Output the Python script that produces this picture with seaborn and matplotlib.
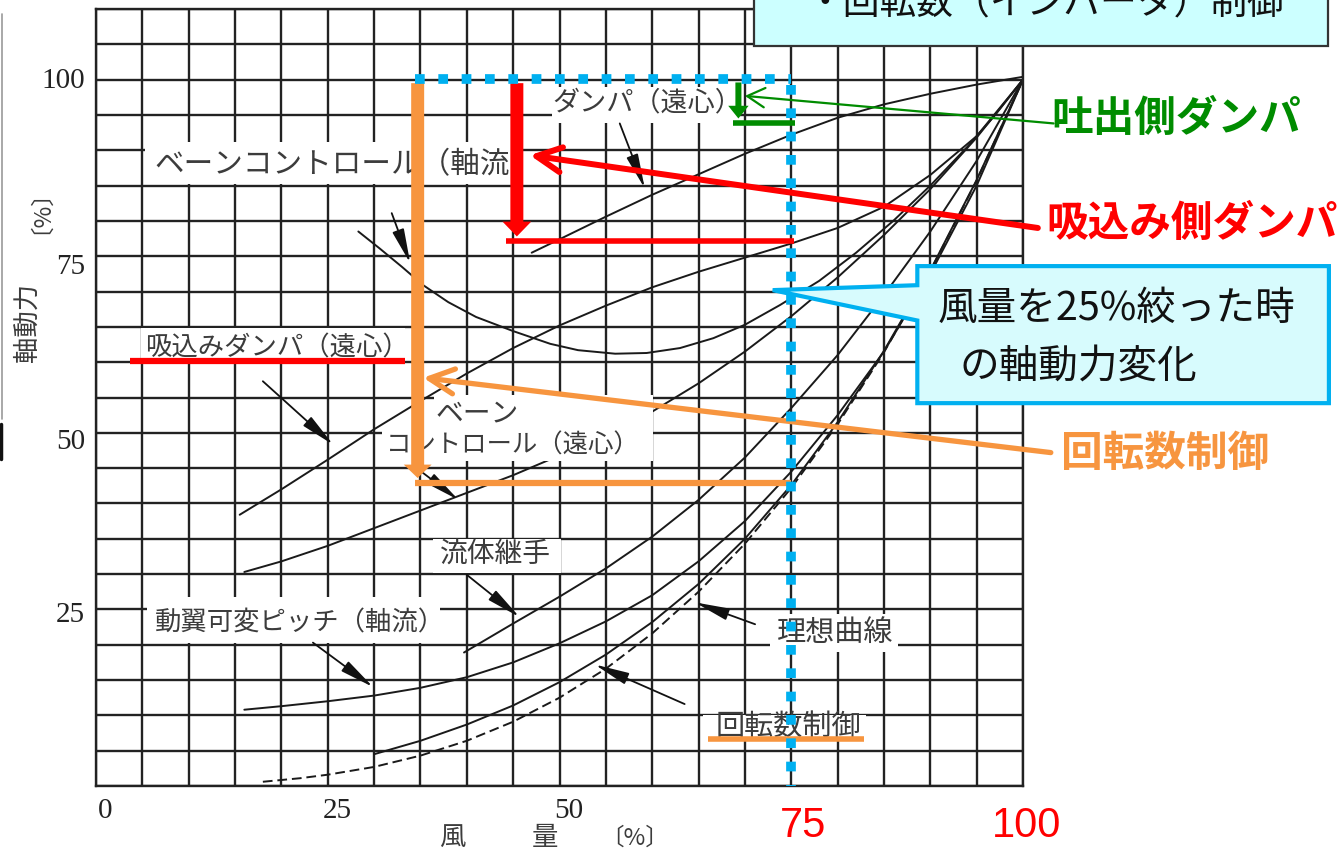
import numpy as np
import pandas as pd
import matplotlib
matplotlib.use("Agg")
import matplotlib.pyplot as plt
import matplotlib.patches as mpatches
import seaborn as sns

# 各制御方式の軸動力曲線 (風量[%] -> 軸動力[%])、図から読み取り
damper_x = [47, 50, 55, 60, 65, 70, 75, 80, 85, 90, 95, 100]
damper_y = [75.5, 77.4, 80.6, 83.7, 86.6, 89.5, 92.2, 94.6, 96.5, 98.0, 99.3, 100.4]

vane_axial_x = [28.3, 30.6, 33, 35.3, 38, 41, 45, 49, 52, 56, 59.4, 63, 66.6, 70, 73.8, 78, 82, 86, 90, 94, 97, 100]
vane_axial_y = [78.5, 76.1, 73.5, 70.9, 68.5, 66.4, 64.4, 62.6, 61.7, 61.2, 61.3, 62.0, 63.4, 65.3, 68.1, 71.5, 75.5, 80.0, 85.0, 90.5, 95.0, 100]

suction_x = [15.5, 20, 25, 30, 35, 40, 45, 50, 55, 60, 65, 70, 75, 80, 85, 90, 95, 100]
suction_y = [38.4, 42.0, 46.2, 50.5, 54.5, 58.4, 62.0, 65.2, 68.0, 70.6, 72.8, 74.8, 76.8, 79.0, 82.0, 86.5, 92.0, 100]

vane_cent_x = [16, 20, 25, 30, 35, 40, 45, 50, 55, 60, 65, 70, 75, 80, 85, 90, 95, 100]
vane_cent_y = [30.3, 31.8, 34.0, 36.5, 39.0, 41.5, 44.0, 46.8, 49.8, 53.0, 57.0, 61.5, 66.5, 72.0, 78.0, 84.5, 91.8, 100]

coupling_x = [39.7, 45, 50, 55, 60, 65, 70, 75, 80, 85, 90, 95, 100]
coupling_y = [18.9, 23.0, 26.8, 30.8, 35.3, 40.5, 46.5, 53.5, 61.0, 69.5, 78.5, 88.5, 100]

pitch_x = [16, 20, 25, 30, 35, 40, 45, 50, 55, 60, 65, 70, 75, 80, 85, 90, 95, 100]
pitch_y = [10.8, 11.3, 12.0, 12.8, 13.9, 15.4, 17.5, 20.2, 23.3, 27.0, 31.8, 37.5, 44.5, 52.5, 61.5, 72.5, 85.0, 100]

speed_x = [30, 35, 40, 45, 50, 55, 60, 65, 70, 75, 80, 85, 90, 95, 100]
speed_y = [4.5, 6.4, 8.7, 11.4, 14.7, 18.6, 23.2, 28.6, 35.0, 42.6, 51.5, 61.6, 73.0, 85.8, 100]

ideal_x = [18, 22, 25, 30, 35, 40, 45, 50, 55, 60, 65, 70, 75, 80, 85, 90, 95, 100]
ideal_y = [0.6, 1.1, 1.6, 2.7, 4.3, 6.4, 9.1, 12.5, 16.6, 21.6, 27.5, 34.3, 42.2, 51.2, 61.4, 72.9, 85.7, 100]

x_tick_labels = ["0", "25", "50"]
y_tick_labels = ["25", "50", "75", "100"]

ORANGE = "#f7953f"
RED = "#ff0000"
GREEN = "#008c00"
BLUE = "#00b0f0"
TXT = "#3c3c3c"

sns.set_theme(style="white")
plt.rcParams["font.family"] = ["Noto Sans CJK JP", "DejaVu Sans"]

fig = plt.figure(figsize=(13.37, 8.53), dpi=100)
ax = fig.add_axes([96 / 1337, 66 / 853, 927 / 1337, 777 / 853])

# 曲線
curves = [("ダンパ", damper_x, damper_y), ("ベーン軸流", vane_axial_x, vane_axial_y),
          ("吸込み", suction_x, suction_y), ("ベーン遠心", vane_cent_x, vane_cent_y),
          ("流体継手", coupling_x, coupling_y), ("可変ピッチ", pitch_x, pitch_y),
          ("回転数", speed_x, speed_y)]
df = pd.concat([pd.DataFrame({"風量": x, "軸動力": y, "方式": n}) for n, x, y in curves])
sns.lineplot(data=df, x="風量", y="軸動力", units="方式", estimator=None, sort=False,
             color="#1a1a1a", lw=1.4, ax=ax, zorder=2)
sns.lineplot(x=ideal_x, y=ideal_y, color="#1a1a1a", lw=1.4, linestyle=(0, (5, 2.5)),
             ax=ax, zorder=2)

ax.set_xlim(0, 100)
ax.set_ylim(0, 110)
ax.set_xticks(np.arange(0, 101, 5))
ax.set_yticks(np.arange(0, 111, 5))
ax.tick_params(length=0, labelbottom=False, labelleft=False)
ax.grid(True, color="#222222", lw=1.7)
ax.set_axisbelow(True)
ax.set_xlabel("")
ax.set_ylabel("")
for s in ax.spines.values():
    s.set_color("#222222")
    s.set_linewidth(1.7)

# 目盛りラベル (セリフ体)
for lab in y_tick_labels:
    v = float(lab)
    ax.text(-1.2, v + {25: -0.7, 50: -1.1, 75: -1.4, 100: 0}[int(v)], lab, ha="right", va="center",
            fontsize=21, family="Liberation Serif", color="#222", clip_on=False)
for lab in x_tick_labels:
    v = float(lab)
    ax.text(v + 1.0, -3.4, lab, ha="center", va="center", fontsize=21,
            family="Liberation Serif", color="#222", clip_on=False)

# 軸ラベル
ax.text(38.4, -7.2, "風", ha="center", va="center", fontsize=19, color=TXT, clip_on=False)
ax.text(48.4, -7.2, "量", ha="center", va="center", fontsize=19, color=TXT, clip_on=False)
ax.text(58.1, -7.2, "〔%〕", ha="center", va="center", fontsize=17, color=TXT, clip_on=False)
ax.text(-7.4, 65.8, "軸動力", ha="center", va="center", rotation=90, fontsize=19, color=TXT, clip_on=False)
ax.text(-7.3, 83.2, "〔%〕", ha="center", va="center", rotation=90, fontsize=17, color=TXT, clip_on=False)

# ラベル背景 (白抜き)
boxes = [(49.2, 93.8, 20.3, 5.2), (5.3, 85.2, 39.9, 6.0), (4.9, 60.3, 28.4, 4.5),
         (36.5, 51.0, 23.6, 4.4), (30.8, 46.0, 29.3, 5.0), (36.4, 30.2, 13.8, 4.7),
         (5.5, 20.3, 31.6, 6.4), (72.7, 18.9, 13.8, 5.4), (65.5, 6.6, 17.6, 3.4)]
for x0, y0, w, h in boxes:
    ax.add_patch(mpatches.Rectangle((x0, y0), w, h, fc="white", ec="none", zorder=3))

labels = [(59.5, 96.9, "ダンパ（遠心）", "center", 19.5),
          (6.3, 88.1, "ベーンコントロール（軸流", "left", 21.3),
          (5.3, 62.2, "吸込みダンパ（遠心）", "left", 19),
          (36.6, 52.9, "ベーン", "left", 20),
          (31.3, 48.4, "コントロール（遠心）", "left", 18.3),
          (37.1, 33.0, "流体継手", "left", 20),
          (6.4, 23.2, "動翼可変ピッチ（軸流）", "left", 19),
          (73.5, 21.8, "理想曲線", "left", 21),
          (66.8, 8.4, "回転数制御", "left", 21)]
for x, y, t, ha, fs in labels:
    ax.text(x, y, t, ha=ha, va="center", fontsize=fs, color=TXT, zorder=4)

pointers = [((56.5, 93.8), (59.2, 84.6)), ((31.9, 81.1), (33.9, 74.0)),
            ((18.0, 57.3), (25.6, 48.3)), ((35.0, 44.6), (39.1, 40.5)),
            ((40.0, 29.9), (45.7, 23.9)), ((23.4, 20.3), (29.9, 14.0)),
            ((71.1, 22.9), (64.6, 26.0)), ((63.5, 11.6), (53.8, 17.2))]
for start, tip in pointers:
    ax.annotate("", xy=tip, xytext=start, zorder=4,
                arrowprops=dict(arrowstyle="-|>,head_length=1.5,head_width=0.26", color="#111",
                                lw=1.3, shrinkA=0, shrinkB=0, mutation_scale=14))

# 色付きの注記
ax.plot([66.0, 82.9], [6.6, 6.6], color=ORANGE, lw=4, solid_capstyle="butt", zorder=5)
ax.plot([3.7, 33.3], [60.2, 60.2], color=RED, lw=4.5, solid_capstyle="butt", zorder=5)

ax.add_patch(mpatches.FancyArrow(34.7, 99.5, 0, -55.9, width=1.4, head_width=3.0, head_length=1.9,
                                 length_includes_head=True, color=ORANGE, lw=0, zorder=6))
ax.plot([34.4, 75.0], [42.9, 42.9], color=ORANGE, lw=4.5, solid_capstyle="butt", zorder=6)
ax.annotate("", xy=(35.3, 57.8), xytext=(103.0, 47.2), annotation_clip=False, zorder=6,
            arrowprops=dict(arrowstyle="->,head_length=0.9,head_width=0.45", color=ORANGE,
                            lw=3.8, shrinkA=0, shrinkB=0, mutation_scale=20))

ax.add_patch(mpatches.FancyArrow(45.4, 99.5, 0, -21.7, width=1.4, head_width=3.1, head_length=2.1,
                                 length_includes_head=True, color=RED, lw=0, zorder=6))
ax.plot([44.2, 75.3], [77.1, 77.1], color=RED, lw=4, solid_capstyle="butt", zorder=6)
ax.annotate("", xy=(46.8, 89.3), xytext=(101.6, 79.0), annotation_clip=False, zorder=6,
            arrowprops=dict(arrowstyle="->,head_length=0.9,head_width=0.45", color=RED,
                            lw=4.3, shrinkA=0, shrinkB=0, mutation_scale=20))

ax.add_patch(mpatches.FancyArrow(69.3, 99.6, 0, -5.1, width=0.65, head_width=2.2, head_length=1.8,
                                 length_includes_head=True, color=GREEN, lw=0, zorder=6))
ax.plot([68.7, 75.4], [93.9, 93.9], color=GREEN, lw=4, solid_capstyle="butt", zorder=6)
ax.annotate("", xy=(70.0, 97.7), xytext=(103.3, 93.8), annotation_clip=False, zorder=6,
            arrowprops=dict(arrowstyle="->,head_length=0.9,head_width=0.5", color=GREEN,
                            lw=1.6, shrinkA=0, shrinkB=0, mutation_scale=14))

# 75%の点線枠
ax.plot([34.4, 75.0], [100.1, 100.1], color=BLUE, lw=7, linestyle=(0, (1, 1.4)),
        dash_capstyle="butt", zorder=8, clip_on=False)
ax.plot([75.0, 75.0], [99.2, 0.0], color=BLUE, lw=7, linestyle=(0, (1, 1.4)),
        dash_capstyle="butt", zorder=8, clip_on=False)

# 右側のラベル
ax.text(116.5, 94.5, "吐出側ダンパ", ha="center", va="center", fontsize=30, fontweight="bold",
        color=GREEN, clip_on=False)
ax.text(118.2, 79.7, "吸込み側ダンパ", ha="center", va="center", fontsize=30, fontweight="bold",
        color=RED, clip_on=False)
ax.text(115.3, 47.2, "回転数制御", ha="center", va="center", fontsize=30, fontweight="bold",
        color=ORANGE, clip_on=False)

ax.text(76.3, -5.5, "75", ha="center", va="center", fontsize=30, color=RED,
        family="Liberation Sans", clip_on=False)
ax.text(100.4, -5.5, "100", ha="center", va="center", fontsize=30, color=RED,
        family="Liberation Sans", clip_on=False)

# 吹き出し
callout = mpatches.Polygon([(88.6, 73.6), (133.0, 73.6), (133.0, 54.2), (88.6, 54.2),
                            (88.6, 65.9), (73.0, 70.2), (88.6, 70.9)], closed=True,
                           fc="#d7fbfd", ec=BLUE, lw=3, clip_on=False, zorder=7)
ax.add_patch(callout)
ax.text(90.8, 67.7, "風量を25%絞った時", ha="left", va="center", fontsize=28.5,
        color="#111", zorder=8, clip_on=False)
ax.text(93.1, 59.5, "の軸動力変化", ha="left", va="center", fontsize=28.5,
        color="#111", zorder=8, clip_on=False)

# 上部の枠 (元図でも上端で見切れている)
ax.add_patch(mpatches.Rectangle((71.0, 104.8), 61.9, 15, fc="#ccffff", ec="#333333", lw=1.6,
                                clip_on=False, zorder=7))
ax.text(76.6, 110.9, "・回転数（インバータ）制御", ha="left", va="center", fontsize=26.5,
        color="#111", zorder=8, clip_on=False)

# 左端の切れ端
fig.add_artist(plt.Line2D([2 / 1337, 2 / 1337], [1 - 15 / 853, 1 - 420 / 853],
                          color="#999999", lw=1.2, transform=fig.transFigure))
fig.add_artist(plt.Line2D([1 / 1337, 1 / 1337], [1 - 425 / 853, 1 - 460 / 853],
                          color="#111111", lw=2.5, transform=fig.transFigure))

fig.savefig("out.png", dpi=100, facecolor="white")
